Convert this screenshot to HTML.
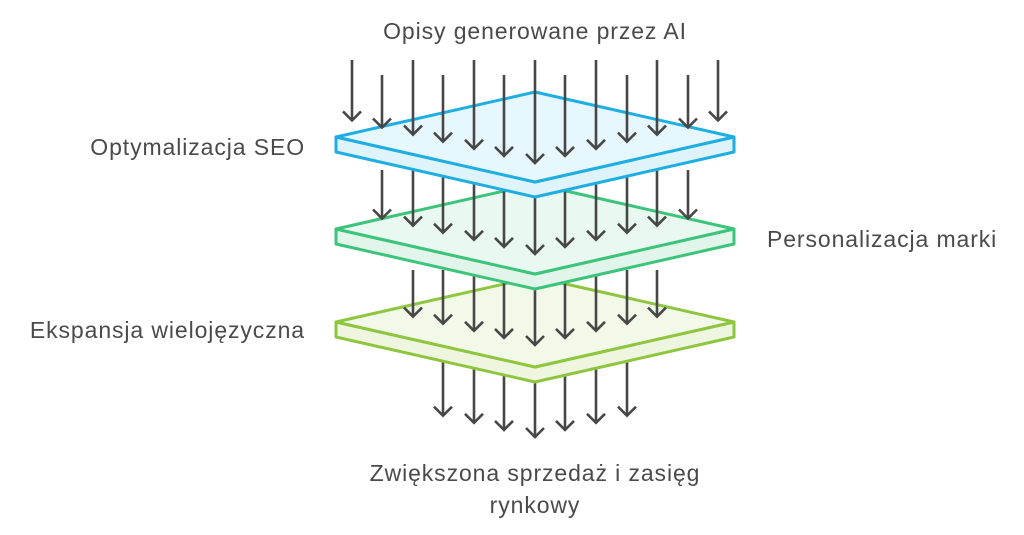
<!DOCTYPE html>
<html><head><meta charset="utf-8"><style>
html,body{margin:0;padding:0;background:#fff;width:1024px;height:535px;overflow:hidden}
svg text{font-family:"Liberation Sans",sans-serif;font-size:23px;letter-spacing:0.9px;fill:#4a4a4a}
</style></head><body>
<svg id="s" width="1024" height="535" viewBox="0 0 1024 535" xmlns="http://www.w3.org/2000/svg">
<text x="535" y="39" text-anchor="middle">Opisy generowane przez AI</text>
<text x="305" y="155" text-anchor="end">Optymalizacja SEO</text>
<text x="767" y="247">Personalizacja marki</text>
<text x="305" y="338" text-anchor="end">Ekspansja wielojęzyczna</text>
<text x="535" y="481" text-anchor="middle">Zwiększona sprzedaż i zasięg</text>
<text x="535" y="513" text-anchor="middle">rynkowy</text>
<g id="g"></g>
</svg>
<script>
var g=document.getElementById('g'),h='';
var xs=[352,382,413,443,474,504,535,565,596,627,657,688,718];
function arrow(x,y1,y2){
 h+='<line x1="'+x+'" y1="'+y1+'" x2="'+x+'" y2="'+y2+'" stroke="#474747" stroke-width="2.6"/>';
 h+='<polyline points="'+(x-9)+','+(y2-9)+' '+x+','+y2+' '+(x+9)+','+(y2-9)+'" fill="none" stroke="#474747" stroke-width="2.6" stroke-linejoin="miter"/>';
}
function plate(ly,stroke,fill,dark){
 var t=ly-45,b=ly+45,th=15;
 h+='<polygon points="336,'+ly+' 535,'+b+' 734,'+ly+' 734,'+(ly+th)+' 535,'+(b+th)+' 336,'+(ly+th)+'" fill="'+dark+'" stroke="'+stroke+'" stroke-width="3" stroke-linejoin="round"/>';
 h+='<polygon points="336,'+ly+' 535,'+t+' 734,'+ly+' 535,'+b+'" fill="'+fill+'" stroke="'+stroke+'" stroke-width="3" stroke-linejoin="round"/>';
}
function tip(i,base){var d=Math.abs(i-6);return base-d*7.1;}
for(var i=3;i<=9;i++)arrow(xs[i],360,tip(i,437));
plate(322,'#8ec63f','#f3f9e8','#eef6e0');
for(var i=2;i<=10;i++)arrow(xs[i],270,tip(i,345));
plate(229,'#3dc47b','#e9f9f1','#e2f5ea');
for(var i=1;i<=11;i++)arrow(xs[i],170,tip(i,254));
plate(137,'#1eaee2','#e6f7fd','#dff3fb');
for(var i=0;i<13;i++)arrow(xs[i],(i%2==0)?60:75,tip(i,163));
g.innerHTML=h;
</script>
</body></html>
